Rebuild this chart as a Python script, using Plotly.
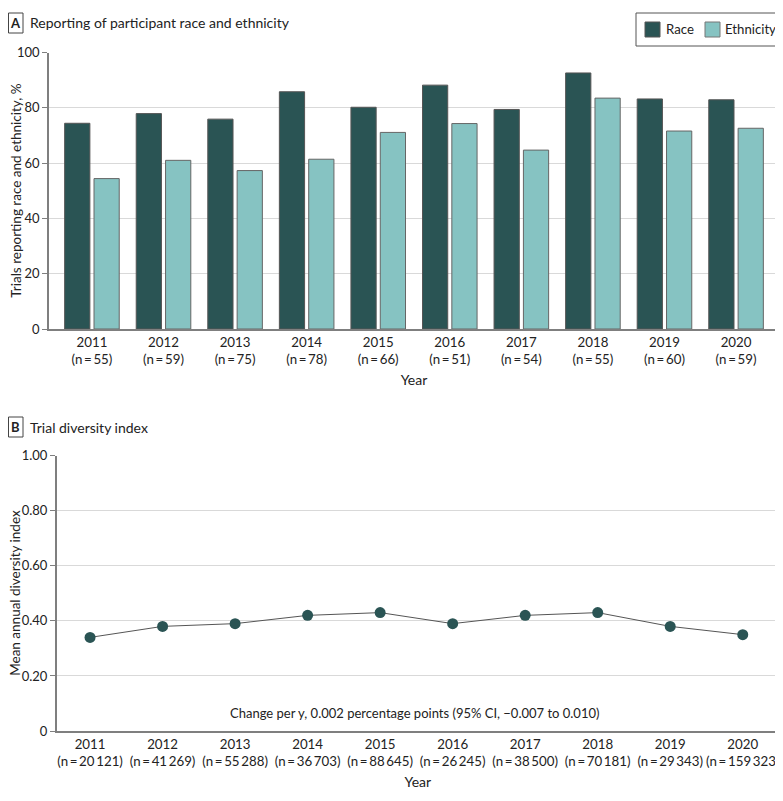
import plotly.graph_objects as go

years = ["2011", "2012", "2013", "2014", "2015", "2016", "2017", "2018", "2019", "2020"]
n_trials = ["55", "59", "75", "78", "66", "51", "54", "55", "60", "59"]
race_pct = [74.4, 77.9, 75.9, 85.8, 80.2, 88.2, 79.4, 92.6, 83.2, 82.9]
ethnicity_pct = [54.4, 61.0, 57.3, 61.4, 71.1, 74.3, 64.7, 83.5, 71.6, 72.6]
n_participants = ["20\u2009121", "41\u2009269", "55\u2009288", "36\u2009703", "88\u2009645",
                  "26\u2009245", "38\u2009500", "70\u2009181", "29\u2009343", "159\u2009323"]
diversity_index = [0.34, 0.38, 0.39, 0.42, 0.43, 0.39, 0.42, 0.43, 0.38, 0.35]
series_names = ["Race", "Ethnicity"]

# page body has an 8px default margin: size figure so it fills the window
OFF = 8
W, H = 783 - OFF, 801 - OFF
FONT = "Lato"
DARK = "#2a5454"
LIGHT = "#86c3c2"
AX = "#7f7f7f"
GRID = "#d9d9d9"
TXT = "#222222"

def px(x):
    return (x - OFF) / W

def py(y):
    return 1 - (y - OFF) / H

fig = go.Figure()

fig.add_trace(go.Bar(x=years, y=race_pct, name=series_names[0], showlegend=False,
                     marker=dict(color=DARK, line=dict(color="#555555", width=1)),
                     xaxis="x", yaxis="y"))
fig.add_trace(go.Bar(x=years, y=ethnicity_pct, name=series_names[1], showlegend=False,
                     marker=dict(color=LIGHT, line=dict(color="#666666", width=1)),
                     xaxis="x", yaxis="y"))
fig.add_trace(go.Scatter(x=years, y=diversity_index, mode="lines+markers", showlegend=False,
                         line=dict(color="#555555", width=1),
                         marker=dict(color=DARK, size=11),
                         xaxis="x2", yaxis="y2"))

tickA = [f"{y}<br>(n\u2009=\u2009{n})" for y, n in zip(years, n_trials)]
tickB = [f"{y}<br>(n\u2009=\u2009{n})" for y, n in zip(years, n_participants)]

common_x = dict(type="category", showgrid=False, showline=True, linecolor=AX, linewidth=1.5,
                ticks="", tickangle=0, automargin=False, tickfont=dict(size=13.3, color=TXT),
                fixedrange=True, zeroline=False,
                title=dict(text="Year", font=dict(size=14, color=TXT), standoff=9))
common_y = dict(showgrid=True, gridcolor=GRID, gridwidth=1, showline=True, linecolor=AX, linewidth=1.5,
                automargin=False, ticks="outside", ticklen=5, tickcolor=AX,
                tickfont=dict(size=13, color=TXT), zeroline=False)

shapes = [
    # legend box and swatches
    dict(type="rect", xref="paper", yref="paper", x0=px(636), x1=px(782), y0=py(46), y1=py(13),
         line=dict(color="#555555", width=1), fillcolor="white"),
    dict(type="rect", xref="paper", yref="paper", x0=px(645), x1=px(660), y0=py(37), y1=py(22),
         line=dict(color="#555555", width=1), fillcolor=DARK),
    dict(type="rect", xref="paper", yref="paper", x0=px(705), x1=px(720), y0=py(37), y1=py(22),
         line=dict(color="#777777", width=1), fillcolor=LIGHT),
    # panel letter boxes
    dict(type="rect", xref="paper", yref="paper", x0=px(8.5), x1=px(23), y0=py(33), y1=py(13),
         line=dict(color="#444444", width=1)),
    dict(type="rect", xref="paper", yref="paper", x0=px(8.5), x1=px(23), y0=py(437), y1=py(417),
         line=dict(color="#444444", width=1)),
]

def ann(text, x, y, size, xanchor="left", **kw):
    return dict(text=text, x=px(x), y=py(y), xref="paper", yref="paper", xanchor=xanchor, yanchor="middle",
                showarrow=False, font=dict(size=size, color=TXT), **kw)

annotations = [
    ann(series_names[0], 664, 29.5, 13.2),
    ann(series_names[1], 723, 29.5, 13.2),
    ann("<b>A</b>", 15.75, 23, 13, xanchor="center"),
    ann("Reporting of participant race and ethnicity", 28, 23, 14),
    ann("<b>B</b>", 15.75, 427, 13, xanchor="center"),
    ann("Trial diversity index", 28, 427, 14),
    ann("Change per y, 0.002 percentage points (95% CI, \u22120.007 to 0.010)", 414, 713, 13, xanchor="center"),
    ann("Trials reporting race and ethnicity, %", 16, 190.7, 13.5, xanchor="center", textangle=-90),
    ann("Mean annual diversity index", 15.5, 593.3, 13.5, xanchor="center", textangle=-90),
]

fig.update_layout(
    width=W, height=H, autosize=False,
    margin=dict(l=0, r=0, t=0, b=0, autoexpand=False),
    paper_bgcolor="white", plot_bgcolor="white",
    font=dict(family=FONT, color=TXT),
    showlegend=False,
    barmode="group", bargap=0.18, bargroupgap=0.14,
    xaxis=dict(common_x, domain=[px(49), px(779)], anchor="y", range=[-0.6, 9.6],
               tickvals=years, ticktext=tickA),
    yaxis=dict(common_y, domain=[py(329), py(52.5)], anchor="x", range=[0, 100],
               tickvals=[0, 20, 40, 60, 80, 100]),
    xaxis2=dict(common_x, domain=[px(56.7), px(779)], anchor="y2", range=[-0.46, 9.5],
                tickvals=years, ticktext=tickB),
    yaxis2=dict(common_y, domain=[py(731), py(455.7)], anchor="x2", range=[0, 1],
                tickvals=[0, 0.2, 0.4, 0.6, 0.8, 1.0], ticktext=["0", "0.20", "0.40", "0.60", "0.80", "1.00"]),
    shapes=shapes,
    annotations=annotations,
)

fig.write_html("out.html")
